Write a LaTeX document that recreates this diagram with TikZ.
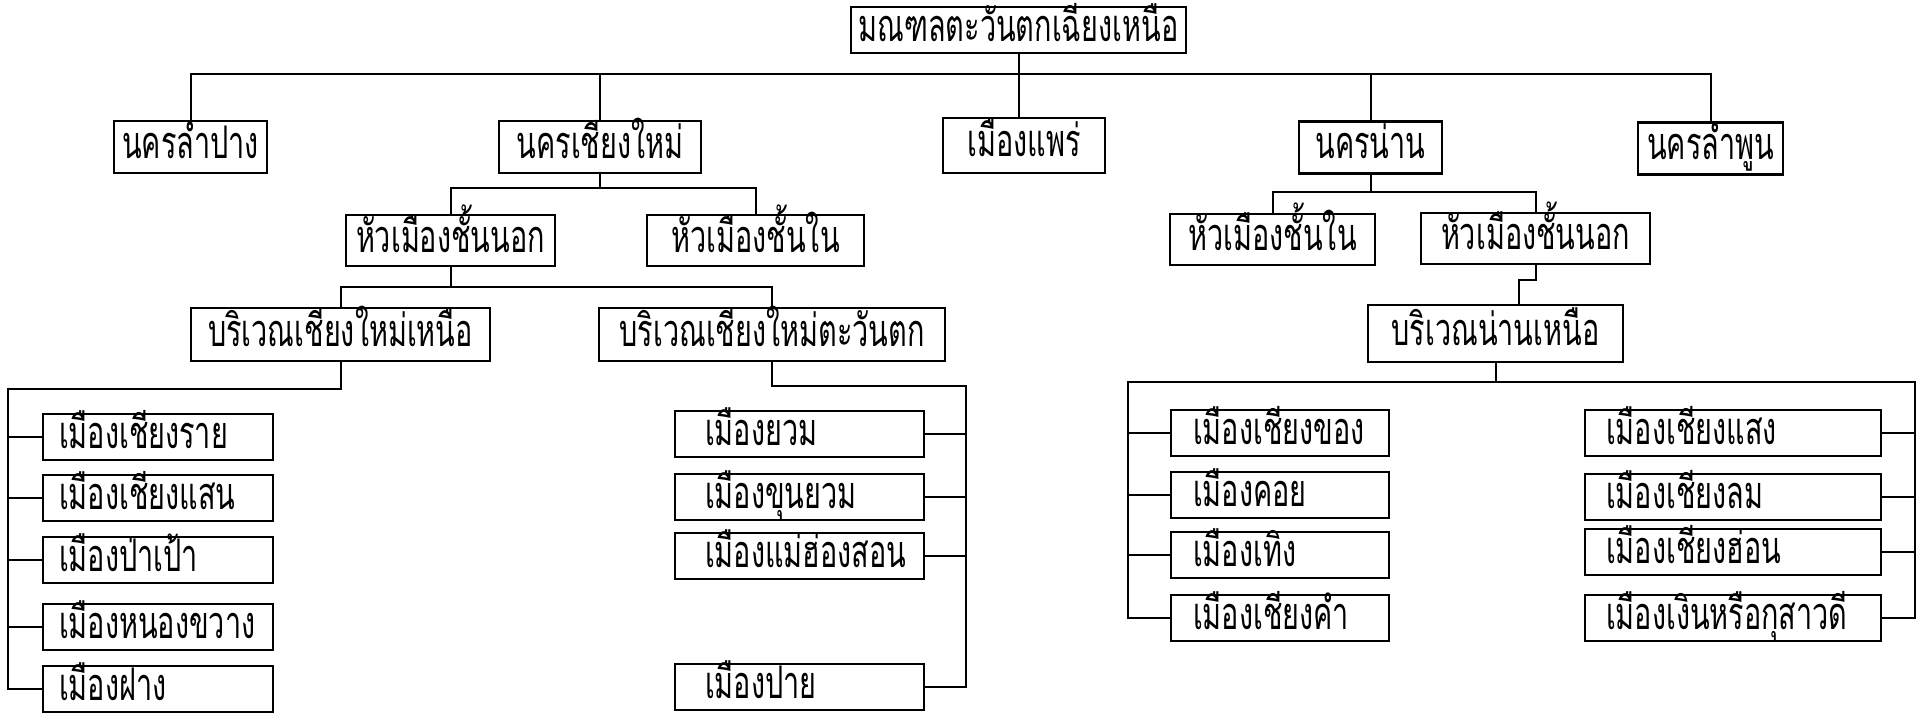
\documentclass[tikz,border=0pt]{standalone}
\usepackage{fontspec}
\newfontfamily\thaifont[Script=Thai,FakeStretch=0.64]{Loma}

\begin{document}
\begin{tikzpicture}[x=1pt,y=1pt,yscale=-1,
  unit/.style={draw, line width=2.2pt, inner sep=0pt, minimum height=52pt,
    text height=25pt, text depth=2pt,
    font=\thaifont\fontsize{45}{50}\selectfont},
  leaf/.style={unit, minimum height=46pt, align=left},
  northleaf/.style={leaf, text width=198pt, inner xsep=16pt},
  westleaf/.style={leaf, text width=189pt, inner xsep=30pt},
  nanleft/.style={leaf, text width=174pt, inner xsep=22pt},
  nanright/.style={leaf, text width=254pt, inner xsep=21pt},
  link/.style={line width=2pt}]
\useasboundingbox (0,0) rectangle (1917,714);

% Text Node
\node [unit, minimum width=335pt, minimum height=46pt] (root) at (1018.5,30) {มณฑลตะวันตกเฉียงเหนือ};
% Text Node
\node [unit, minimum width=153pt] (lampang) at (190.5,147) {นครลำปาง};
% Text Node
\node [unit, minimum width=202pt] (chiangmai) at (600,147) {นครเชียงใหม่};
% Text Node
\node [unit, minimum width=162pt, minimum height=55pt] (phrae) at (1024,145.5) {เมืองแพร่};
% Text Node
\node [unit, minimum width=143pt] (nan) at (1370.5,147.5) {นครน่าน};
% Text Node
\node [unit, minimum width=145pt] (lamphun) at (1710.5,148.5) {นครลำพูน};

% Text Node
\node [unit, minimum width=209pt, minimum height=51pt] (cmouter) at (450.5,240.5) {หัวเมืองชั้นนอก};
% Text Node
\node [unit, minimum width=217pt, minimum height=51pt] (cminner) at (755.5,240.5) {หัวเมืองชั้นใน};
% Text Node
\node [unit, minimum width=205pt, minimum height=51pt] (naninner) at (1272.5,239.5) {หัวเมืองชั้นใน};
% Text Node
\node [unit, minimum width=229pt, minimum height=51pt] (nanouter) at (1535.5,238.5) {หัวเมืองชั้นนอก};

% Text Node
\node [unit, minimum width=299pt, minimum height=53pt] (cmnorth) at (340.5,334.5) {บริเวณเชียงใหม่เหนือ};
% Text Node
\node [unit, minimum width=346pt, minimum height=53pt] (cmwest) at (772,334.5) {บริเวณเชียงใหม่ตะวันตก};
% Text Node
\node [unit, minimum width=255pt, minimum height=57pt] (nannorth) at (1495.5,333.5) {บริเวณน่านเหนือ};

% Text Node
\node [northleaf] (chiangrai) at (158,437) {เมืองเชียงราย};
% Text Node
\node [northleaf] (chiangsaen) at (158,498) {เมืองเชียงแสน};
% Text Node
\node [northleaf] (papao) at (158,560) {เมืองป่าเป้า};
% Text Node
\node [northleaf] (nongkhwang) at (158,627) {เมืองหนองขวาง};
% Text Node
\node [northleaf] (fang) at (158,689) {เมืองฝาง};

% Text Node
\node [westleaf] (yuam) at (799.5,434) {เมืองยวม};
% Text Node
\node [westleaf] (khunyuam) at (799.5,497) {เมืองขุนยวม};
% Text Node
\node [westleaf] (maehongson) at (799.5,556) {เมืองแม่ฮ่องสอน};
% Text Node
\node [westleaf] (pai) at (799.5,687) {เมืองปาย};

% Text Node
\node [nanleft] (chiangkhong) at (1280,433) {เมืองเชียงของ};
% Text Node
\node [nanleft] (khoi) at (1280,495) {เมืองคอย};
% Text Node
\node [nanleft] (thoeng) at (1280,555) {เมืองเทิง};
% Text Node
\node [nanleft] (chiangkham) at (1280,618) {เมืองเชียงคำ};

% Text Node
\node [nanright] (chiangsaeng) at (1733,433) {เมืองเชียงแสง};
% Text Node
\node [nanright] (chianglom) at (1733,497) {เมืองเชียงลม};
% Text Node
\node [nanright] (chianghon) at (1733,552) {เมืองเชียงฮ่อน};
% Text Node
\node [nanright] (ngoen) at (1733,618) {เมืองเงินหรือกุสาวดี};

\coordinate (topbar) at (0,74);
\coordinate (cmbar) at (0,188);
\coordinate (cmbartwo) at (0,287);
\coordinate (cmntrunk) at (8,389);
\coordinate (cmwtrunk) at (966,386);
\coordinate (nanbar) at (0,192);
\coordinate (nanstep) at (1519,280);
\coordinate (nanltrunk) at (1128,382);
\coordinate (nanrtrunk) at (1915,382);

%Straight Lines
\draw [link] (lampang.north) |- (lamphun.north |- topbar) -- (lamphun.north);
%Straight Lines
\draw [link] (root.south) -- (root.south |- phrae.north);
%Straight Lines
\draw [link] (chiangmai.north) -- (chiangmai.north |- topbar);
%Straight Lines
\draw [link] (nan.north) -- (nan.north |- topbar);

%Straight Lines
\draw [link] (chiangmai.south) -- (chiangmai.south |- cmbar);
%Straight Lines
\draw [link] (cmouter.north) |- (cminner.north |- cmbar) -- (cminner.north);
%Straight Lines
\draw [link] (cmouter.south) -- (cmouter.south |- cmbartwo);
%Straight Lines
\draw [link] (cmnorth.north) |- (cmwest.north |- cmbartwo) -- (cmwest.north);

%Straight Lines
\draw [link] (cmnorth.south) |- (cmntrunk) |- (fang.west);
\foreach \n in {chiangrai,chiangsaen,papao,nongkhwang}
  \draw [link] (cmntrunk |- \n.west) -- (\n.west);
%Straight Lines
\draw [link] (cmwest.south) |- (cmwtrunk) |- (pai.east);
\foreach \n in {yuam,khunyuam,maehongson}
  \draw [link] (cmwtrunk |- \n.east) -- (\n.east);

%Straight Lines
\draw [link] (nan.south) -- (nan.south |- nanbar);
%Straight Lines
\draw [link] (naninner.north) |- (nanouter.north |- nanbar) -- (nanouter.north);
%Straight Lines
\draw [link] (nanouter.south) |- (nanstep) -- (nanstep |- nannorth.north);

%Straight Lines
\draw [link] (nannorth.south) -- (nannorth.south |- nanltrunk);
\draw [link] (chiangkham.west) -| (nanltrunk) -- (nanrtrunk) |- (ngoen.east);
\foreach \n in {chiangkhong,khoi,thoeng}
  \draw [link] (nanltrunk |- \n.west) -- (\n.west);
\foreach \n in {chiangsaeng,chianglom,chianghon}
  \draw [link] (nanrtrunk |- \n.east) -- (\n.east);

\end{tikzpicture}
\end{document}
